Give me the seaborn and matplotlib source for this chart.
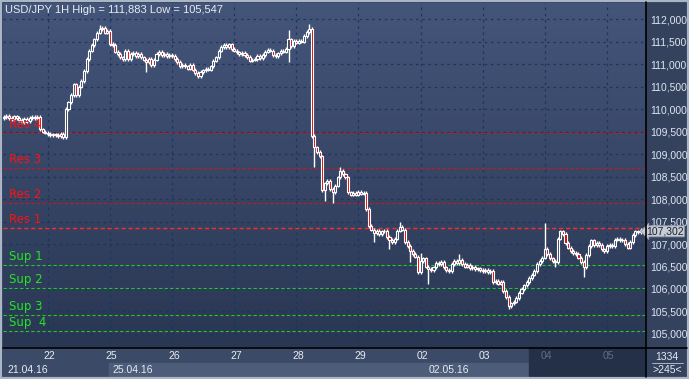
import numpy as np
import pandas as pd
import matplotlib
matplotlib.use('Agg')
import matplotlib.pyplot as plt
from matplotlib.colors import LinearSegmentedColormap
from matplotlib.patches import Rectangle
import seaborn as sns

# Hourly closes of USD/JPY, one list per trading day
closes_21 = [109.82, 109.85, 109.80, 109.78, 109.84, 109.80, 109.76, 109.72, 109.78, 109.74,
             109.80, 109.83, 109.80, 109.82, 109.55, 109.50, 109.48]
closes_22 = [109.45, 109.43, 109.44, 109.42, 109.40, 109.45, 109.38, 110.00, 110.15, 110.32,
             110.55, 110.32, 110.50, 110.62, 110.85, 111.12, 111.30, 111.42, 111.55, 111.70,
             111.78, 111.80, 111.70, 111.74]
closes_25 = [111.45, 111.42, 111.28, 111.22, 111.15, 111.12, 111.30, 111.12, 111.22, 111.25,
             111.18, 111.22, 111.15, 111.10, 111.05, 111.12, 110.98, 111.10, 111.22, 111.28,
             111.20, 111.22, 111.18, 111.20]
closes_26 = [111.18, 111.12, 111.05, 110.95, 110.98, 110.95, 110.90, 110.98, 110.88, 110.80,
             110.74, 110.82, 110.86, 110.90, 110.88, 110.95, 111.08, 111.15, 111.30, 111.38,
             111.42, 111.38, 111.44, 111.34]
closes_27 = [111.30, 111.26, 111.22, 111.25, 111.20, 111.16, 111.08, 111.10, 111.12, 111.18,
             111.14, 111.20, 111.28, 111.32, 111.30, 111.20, 111.18, 111.24, 111.30, 111.28,
             111.34, 111.55, 111.40, 111.52]
closes_28 = [111.48, 111.52, 111.50, 111.62, 111.72, 111.78, 109.40, 109.15, 109.05, 108.95,
             108.20, 108.35, 108.40, 108.22, 108.15, 108.30, 108.48, 108.62, 108.55, 108.48,
             108.15, 108.10, 108.14, 108.10]
closes_29 = [108.16, 108.12, 108.14, 107.78, 107.40, 107.32, 107.25, 107.30, 107.22, 107.28,
             107.30, 107.15, 107.10, 107.05, 107.12, 107.30, 107.38, 107.32, 107.05, 106.95,
             106.85, 106.78, 106.72, 106.38]
closes_02 = [106.62, 106.68, 106.50, 106.45, 106.42, 106.48, 106.58, 106.55, 106.60, 106.48,
             106.42, 106.40, 106.55, 106.62, 106.58, 106.64, 106.55, 106.50, 106.54, 106.46,
             106.50, 106.44, 106.46, 106.42]
closes_03 = [106.40, 106.42, 106.38, 106.40, 106.16, 106.18, 106.12, 106.15, 105.96, 105.82,
             105.62, 105.68, 105.72, 105.80, 105.92, 106.00, 106.08, 106.15, 106.25, 106.32,
             106.40, 106.55, 106.62, 106.70]
closes_04 = [106.90, 106.78, 106.68, 106.62, 106.60, 107.12, 107.28, 107.22, 107.02, 106.92,
             106.85, 106.80, 106.78, 106.70, 106.60, 106.48, 106.75, 106.95, 107.08, 106.98,
             107.02, 106.98, 106.88, 106.85]
closes_05 = [106.95, 106.98, 106.96, 107.10, 107.12, 107.08, 107.10, 107.00, 106.92, 107.05,
             107.20, 107.28, 107.26, 107.32, 107.302]
first_open = 109.80

# candles with long shadows: bar index -> (high, low), None keeps the short default wick
spikes = {23: (None, 109.33), 24: (110.05, None), 37: (111.86, None), 55: (None, 110.82),
          110: (111.76, 111.05), 118: (111.883, None), 120: (None, 108.72), 124: (None, 107.95),
          127: (None, 107.92), 130: (108.72, None), 143: (None, 107.05), 149: (None, 106.90),
          153: (107.50, None), 157: (None, 106.60), 161: (106.80, None), 164: (None, 106.10),
          176: (106.78, None), 195: (None, 105.547), 209: (107.47, None), 213: (None, 106.50),
          224: (None, 106.26)}
wick = 0.04

day_labels = ['22', '25', '26', '27', '28', '29', '02', '03', '04', '05']
date_labels = ['21.04.16', '25.04.16', '02.05.16']

res_names = ['Res 4', 'Res 3', 'Res 2', 'Res 1']
res_levels = [109.467, 108.70, 107.91, 107.356]
sup_names = ['Sup 1', 'Sup 2', 'Sup 3', 'Sup  4']
sup_levels = [106.533, 106.02, 105.42, 105.07]
price_ticks = [105.0, 105.5, 106.0, 106.5, 107.0, 107.5, 108.0, 108.5, 109.0, 109.5,
               110.0, 110.5, 111.0, 111.5, 112.0]
last_price = 107.302

# build OHLC table
days = [closes_21, closes_22, closes_25, closes_26, closes_27, closes_28,
        closes_29, closes_02, closes_03, closes_04, closes_05]
closes = [c for d in days for c in d]
day_starts = list(np.cumsum([len(d) for d in days])[:-1])
df = pd.DataFrame({'close': closes})
df['open'] = [first_open] + closes[:-1]
df['high'] = df[['open', 'close']].max(axis=1) + wick
df['low'] = df[['open', 'close']].min(axis=1) - wick
for i, (h, l) in spikes.items():
    if h is not None:
        df.loc[i, 'high'] = h
    if l is not None:
        df.loc[i, 'low'] = l

sns.set_theme(style='dark')
plt.rcParams['font.family'] = ['Liberation Sans', 'DejaVu Sans']

W, H = 689, 379
fig = plt.figure(figsize=(W / 100, H / 100), dpi=100)
fig.patch.set_facecolor('#34425e')

xmin, xmax = -0.3, 247.7
ymin, ymax = 104.71, 112.36

ax = fig.add_axes([3 / W, (H - 347) / H, 642 / W, 344 / H])
ax.set_xlim(xmin, xmax)
ax.set_ylim(ymin, ymax)

# gradient background
bg = LinearSegmentedColormap.from_list('bg', ['#44557a', '#2a3753'])
ax.imshow(np.linspace(0, 1, 256).reshape(-1, 1), cmap=bg, extent=[xmin, xmax, ymin, ymax],
          aspect='auto', origin='upper', zorder=0)

# grid
for p in price_ticks:
    ax.axhline(p, color='#1b3462', lw=0.9, ls=(0, (2, 3)), zorder=1)
for s in day_starts:
    ax.axvline(s, color='#1b3462', lw=0.9, ls=(0, (2, 3)), zorder=1)

# resistance / support
for name, lvl in zip(res_names, res_levels):
    strong = name == 'Res 1'
    ax.axhline(lvl, color='#ff2a2a' if strong else '#c81818', lw=1.0 if strong else 0.8,
               ls=(0, (3, 2)), zorder=2)
    ax.text(2, lvl + 0.19, name, color='#ff1010', fontsize=8.5, family='DejaVu Sans',
            va='center', ha='left', zorder=5)
for name, lvl in zip(sup_names, sup_levels):
    ax.axhline(lvl, color='#22c822', lw=0.8, ls=(0, (3, 2)), zorder=2)
    ax.text(2, lvl + 0.19, name, color='#22e622', fontsize=8.5, family='DejaVu Sans',
            va='center', ha='left', zorder=5)

# candles
x = df.index.values
ax.vlines(x, df['low'], df['high'], color='white', lw=1.0, zorder=3)
body = (df['close'] - df['open']).values
height = np.where(np.abs(body) < 0.02, 0.02, np.abs(body))
bottom = df[['open', 'close']].min(axis=1).values
up = body >= 0
ax.bar(x[up], height[up], bottom=bottom[up], width=0.8, color='#34425e',
       edgecolor='white', lw=0.8, zorder=4)
ax.bar(x[~up], height[~up], bottom=bottom[~up], width=0.8, color='#e00000',
       edgecolor='white', lw=0.8, zorder=4)

# right price scale
ax.yaxis.tick_right()
ax.set_yticks(price_ticks)
ax.set_yticklabels([f'{p:.3f}'.replace('.', ',') for p in price_ticks])
ax.tick_params(axis='y', length=0, pad=4, labelsize=7.5, labelcolor='#dfe6f0')
ax.set_xticks([])
for sp in ax.spines.values():
    sp.set_visible(False)

ax.text(1.002, last_price - 0.02, f'{last_price:.3f}'.replace('.', ','),
        transform=ax.get_yaxis_transform(), fontsize=7.5, color='#1a2030', va='center',
        ha='left', zorder=6, clip_on=False,
        bbox=dict(boxstyle='larrow,pad=0.05', fc='#c6cbd4', ec='#8e97a6', lw=0.6))

# bottom time panel
axb = fig.add_axes([3 / W, 2 / H, 642 / W, 30 / H])
axb.set_xlim(xmin, xmax)
axb.set_ylim(0, 1)
axb.axis('off')
axb.add_patch(Rectangle((xmin, 0), xmax - xmin, 1, color='#3b4a66', zorder=0))
axb.add_patch(Rectangle((day_starts[1] - 0.3, 0), 202.8 - day_starts[1], 0.48, color='#4c5c79', zorder=1))
axb.add_patch(Rectangle((202.8, 0), xmax - 202.8, 1, color='#243048', zorder=1))
for s, lab in zip(day_starts, day_labels):
    axb.text(s + 0.7, 0.7, lab, color='#5d6c88' if s > 202 else '#e8ecf2', fontsize=7.5,
             ha='center', va='center', zorder=3)
for s, lab in zip([1.5, day_starts[1] + 1, day_starts[6] + 3], date_labels):
    axb.text(s, 0.23, lab, color='#e8ecf2', fontsize=7.5, ha='left', va='center', zorder=3)

# bottom-right counter box
fig.text(667 / W, (H - 357) / H, '1334', color='#e8ecf2', fontsize=7.5, ha='center', va='center')
fig.text(667 / W, (H - 370) / H, '>245<', color='#e8ecf2', fontsize=7.5, ha='center', va='center')
fig.add_artist(plt.Line2D([652 / W, 683 / W], [(H - 363) / H] * 2, color='#c0c8d6', lw=0.6))

# separators and frame
fig.add_artist(plt.Line2D([645.5 / W] * 2, [2 / H, 1 - 2 / H], color='black', lw=1.2))
fig.add_artist(plt.Line2D([3 / W, 1 - 2 / W], [(H - 347.5) / H] * 2, color='black', lw=1.2))
fig.add_artist(Rectangle((0, 0), 1, 1, transform=fig.transFigure, fill=False,
                         ec='#aab5c6', lw=3))

fig.text(5 / W, 1 - 10 / H, 'USD/JPY 1H High = 111,883 Low = 105,547', color='#e8ecf2',
         fontsize=8, ha='left', va='center')

plt.savefig('out.png', dpi=100, facecolor=fig.get_facecolor())
